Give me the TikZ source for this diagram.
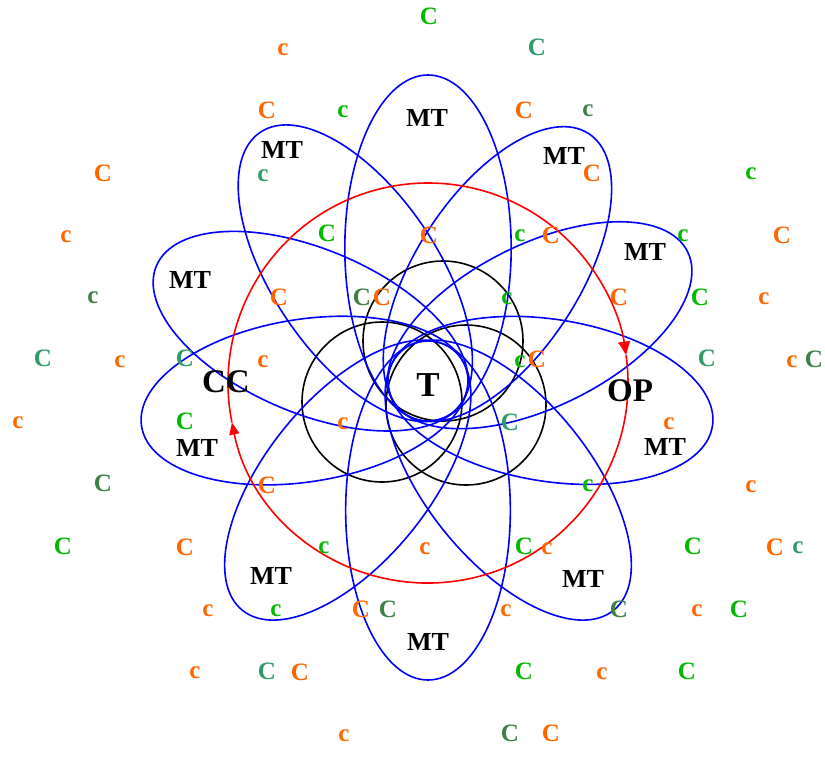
\documentclass[tikz,border=0pt]{standalone}
\usepackage{fontspec}
\setmainfont{Liberation Serif}
\usetikzlibrary{arrows.meta}
\definecolor{orng}{RGB}{255,102,0}
\definecolor{grn}{RGB}{0,185,0}
\definecolor{sgrn}{RGB}{46,155,105}
\definecolor{dgrn}{RGB}{60,128,70}
\begin{document}
\begin{tikzpicture}[x=1pt,y=-1pt,
  petal/.style={draw=blue, line width=1.6pt},
  blackring/.style={draw=black, line width=1.6pt},
  cyc/.style={draw=red, line width=1.6pt},
  lbl/.style={inner sep=0pt, font=\fontsize{25}{25}\selectfont\bfseries},
  mtlbl/.style={inner sep=0pt, font=\fontsize{26}{26}\selectfont\bfseries},
  biglbl/.style={inner sep=0pt, font=\fontsize{33}{33}\selectfont\bfseries}]
\useasboundingbox (0,0) rectangle (825,761);
\coordinate (T0) at (428,381);
\coordinate (R0) at (428,383);
% black circles
\foreach \x/\y in {382/402, 443/341, 466/405}
  \draw[blackring] (\x,\y) circle[radius=80pt];
% blue petals
\foreach \th/\d in {90/306,57/295,26.5/290,-9/288,-51/295,-90/299,231/295,189/290,157/295,124/300}{
  \pgfmathsetmacro\aa{(\d+40)/2}
  \pgfmathsetmacro\bb{sqrt(40*\aa)}
  \pgfmathsetmacro\off{(\d-40)/2}
  \draw[petal, shift={(T0)}, rotate=\th] (\off pt,0pt) ellipse [x radius=\aa pt, y radius=\bb pt];
}
% red cycle
\draw[cyc, -{Bar[width=12pt,line width=1.6pt] Triangle[width=10pt,length=12pt]}]
  ([shift={(191.4:200pt)}]R0) arc[start angle=191.4, end angle=8, radius=200pt];
\draw[cyc, -{Triangle[width=10pt,length=12pt]}]
  ([shift={(8:200pt)}]R0) arc[start angle=8, end angle=-168.6, radius=200pt];
% main labels
\node[inner sep=0pt, font=\fontsize{35}{35}\selectfont\bfseries] (t) at (428,385) {T};
\node[biglbl] (cc) at (226,382) {CC};
\node[biglbl] (op) at (630,391) {OP};
\foreach \x/\y [count=\i] in {427/118, 564/156, 645/252, 665/447, 583/579, 428/642, 271/576, 197/448, 190/280, 282/150}
  \node[mtlbl] (mt\i) at (\x,\y) {MT};
% small letters
\foreach \x/\y/\t/\cl [count=\i] in {
 283/50/c/orng, 267/110/C/orng, 343/112/c/grn, 263/176/c/sgrn, 103/173/C/orng,
 66/237/c/orng, 327/233/C/grn, 93/298/c/dgrn, 279/297/C/orng, 362/297/C/dgrn,
 382/297/C/orng, 43/358/C/sgrn, 120/362/c/orng, 185/358/C/sgrn, 263/362/c/orng,
 429/16/C/grn, 537/47/C/sgrn, 524/110/C/orng, 588/111/c/dgrn, 592/173/C/orng,
 751/174/c/grn, 429/235/C/orng, 520/236/c/grn, 551/235/C/orng, 683/236/c/grn,
 782/235/C/orng, 507/299/c/grn, 619/297/C/orng, 700/297/C/grn, 764/299/c/orng,
 520/362/c/grn, 537/359/C/orng, 707/358/C/sgrn, 792/362/c/orng, 814/359/C/dgrn,
 18/423/c/orng, 185/421/C/grn, 343/424/c/orng, 103/483/C/dgrn, 267/485/C/orng,
 63/546/C/grn, 185/547/C/orng, 324/548/c/grn, 208/611/c/orng, 276/611/c/grn,
 361/609/C/orng, 388/609/C/dgrn, 195/673/c/orng, 267/671/C/sgrn, 300/672/C/orng,
 344/736/c/orng, 510/422/C/sgrn, 669/424/c/orng, 751/487/c/orng, 588/486/c/grn,
 425/549/c/orng, 524/546/C/grn, 547/549/c/orng, 693/546/C/grn, 775/547/C/orng,
 798/548/c/sgrn, 619/609/C/dgrn, 506/611/c/orng, 697/611/c/orng, 739/609/C/grn,
 524/671/C/grn, 602/674/c/orng, 687/671/C/grn, 510/733/C/dgrn, 551/733/C/orng}
  \node[lbl, text=\cl] (s\i) at (\x,\y) {\t};
\end{tikzpicture}
\end{document}
